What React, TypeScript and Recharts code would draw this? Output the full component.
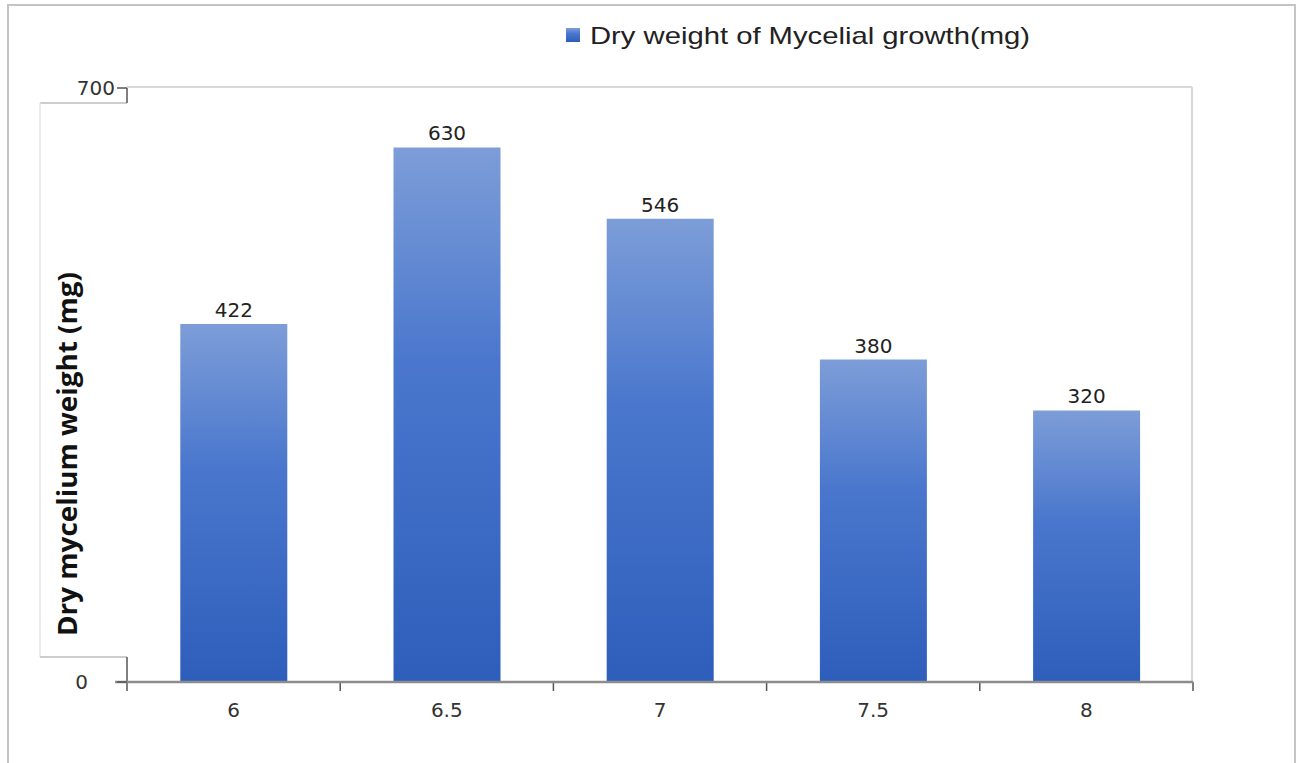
import { BarChart, Bar, XAxis, YAxis, Legend, LabelList, usePlotArea } from 'recharts'

// pH levels tested and the dry mycelium weight measured at each
const phLevels = ['6', '6.5', '7', '7.5', '8']
const dryWeights = [422, 630, 546, 380, 320]
const yTicks = [0, 700]
const seriesName = 'Dry weight of Mycelial growth(mg)'
const axisTitle = 'Dry mycelium weight (mg)'

const data = phLevels.map((ph, i) => ({ ph, weight: dryWeights[i] }))

const NUM_FONT = '"DejaVu Sans", sans-serif'

// back wall, the side panel holding the axis title, and the crossed axis stubs
function ChartFrame() {
  const area = usePlotArea()
  if (!area) return null
  const { x, y, width, height } = area
  const bottom = y + height
  const right = x + width
  const boxLeft = 40
  const boxTop = y + 15
  const boxBottom = bottom - 25
  const band = width / phLevels.length
  return (
    <g>
      {/* back wall */}
      <line x1={x} y1={y - 1} x2={right - 1} y2={y - 1} stroke="#d8d8d8" strokeWidth={2} />
      <line x1={right - 1} y1={y - 1} x2={right - 1} y2={bottom} stroke="#d8d8d8" strokeWidth={2} />

      {/* side panel */}
      <rect x={boxLeft} y={boxTop} width={x - boxLeft} height={boxBottom - boxTop} fill="#fff" />
      <line x1={boxLeft} y1={boxTop} x2={x} y2={boxTop} stroke="#bdbdbd" strokeWidth={1.5} />
      <line x1={boxLeft} y1={boxTop} x2={boxLeft} y2={boxBottom} stroke="#e6e6e6" strokeWidth={1.5} />
      <line x1={boxLeft} y1={boxBottom} x2={x} y2={boxBottom} stroke="#bdbdbd" strokeWidth={1.5} />
      <text
        x={0}
        y={0}
        transform={`translate(${boxLeft + 27}, ${boxTop + 351}) rotate(-90)`}
        textAnchor="middle"
        dominantBaseline="central"
        fontFamily='"Open Sans", sans-serif'
        fontWeight={700}
        fontSize={26}
        fill="#111"
        textLength={364}
        lengthAdjust="spacingAndGlyphs"
      >
        {axisTitle}
      </text>

      {/* y axis stubs that show above and below the panel */}
      <line x1={x} y1={y} x2={x} y2={boxTop} stroke="#555" strokeWidth={1.5} />
      <line x1={x} y1={boxBottom} x2={x} y2={bottom + 9} stroke="#555" strokeWidth={1.5} />
      <line x1={x - 12} y1={bottom} x2={x} y2={bottom} stroke="#8c8c8c" strokeWidth={2.5} />

      {/* category boundary ticks */}
      {phLevels.map((_, i) => (
        <line
          key={i}
          x1={x + band * (i + 1)}
          y1={bottom}
          x2={x + band * (i + 1)}
          y2={bottom + 9}
          stroke="#555"
          strokeWidth={1.5}
        />
      ))}
    </g>
  )
}

const LegendContent = () => (
  <svg width={480} height={40}>
    <rect x={6} y={14} width={14} height={14} fill="url(#barFill)" />
    <text
      x={30}
      y={30}
      fontFamily='"Liberation Sans", Arial, sans-serif'
      fontSize={24}
      fill="#222"
      textLength={440}
      lengthAdjust="spacingAndGlyphs"
    >
      {seriesName}
    </text>
  </svg>
)

const YTick = ({ x, y, payload }: any) => (
  <text
    x={payload.value === 0 ? x - 27 : x}
    y={y}
    textAnchor="end"
    dominantBaseline="central"
    fontFamily={NUM_FONT}
    fontSize={20}
    fill="#333"
  >
    {payload.value}
  </text>
)

const XTick = ({ x, y, payload }: any) => (
  <text x={x} y={y + 27} textAnchor="middle" fontFamily={NUM_FONT} fontSize={20} fill="#333">
    {payload.value}
  </text>
)

export default function App() {
  return (
    <div style={{ position: 'absolute', left: 0, top: 0, width: 1297, height: 763, background: '#fff' }}>
      <div
        style={{
          position: 'absolute',
          left: 7,
          top: 4,
          width: 1285,
          height: 770,
          borderTop: '2px solid #c4c4c4',
          borderLeft: '2px solid #c4c4c4',
          borderRight: '2px solid #c4c4c4',
        }}
      />
      <BarChart
        width={1297}
        height={763}
        data={data}
        margin={{ top: 88, right: 104, bottom: 41, left: 27 }}
        barCategoryGap="25%"
      >
        <defs>
          <linearGradient id="barFill" x1="0" y1="0" x2="0" y2="1">
            <stop offset="0%" stopColor="#7d9dd8" />
            <stop offset="40%" stopColor="#4a77cd" />
            <stop offset="100%" stopColor="#2e5ebb" />
          </linearGradient>
        </defs>
        <XAxis
          dataKey="ph"
          height={40}
          axisLine={{ stroke: '#8c8c8c', strokeWidth: 2.5 }}
          tickLine={false}
          tick={<XTick />}
          interval={0}
        />
        <YAxis
          width={100}
          domain={[0, 700]}
          ticks={yTicks}
          axisLine={false}
          tickSize={10}
          tickLine={{ stroke: '#555', strokeWidth: 1.5 }}
          tick={<YTick />}
        />
        {/* middle alignment keeps the legend from reserving space above the plot */}
        <Legend
          verticalAlign="middle"
          content={<LegendContent />}
          wrapperStyle={{ top: 14, left: 560, width: 480 }}
        />
        <Bar dataKey="weight" name={seriesName} fill="url(#barFill)" isAnimationActive={false}>
          <LabelList
            dataKey="weight"
            position="top"
            offset={7}
            fontFamily={NUM_FONT}
            fontSize={20}
            fill="#222"
          />
        </Bar>
        <ChartFrame />
      </BarChart>
    </div>
  )
}
